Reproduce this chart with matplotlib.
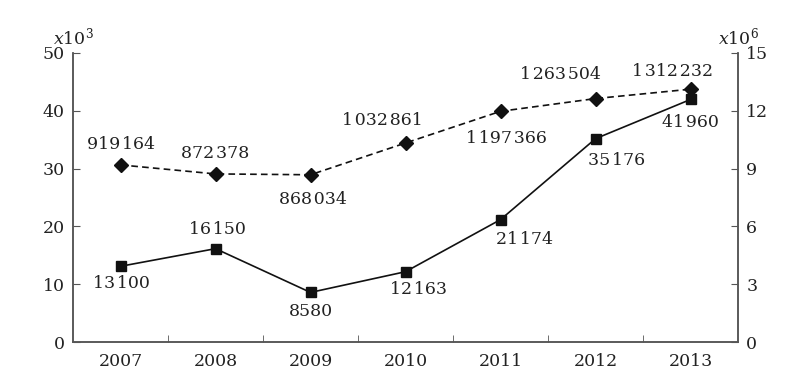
import matplotlib.pyplot as plt
import matplotlib.ticker as mticker

plt.rcParams['font.family'] = ['DejaVu Serif']
plt.rcParams['font.size'] = 12.5
plt.rcParams['mathtext.fontset'] = 'dejavuserif'

years = ['2007', '2008', '2009', '2010', '2011', '2012', '2013']
# solid line, left axis (x10^3)
solid_vals = [13100, 16150, 8580, 12163, 21174, 35176, 41960]
# dashed line, right axis
dashed_vals = [919164, 872378, 868034, 1032861, 1197366, 1263504, 1312232]

# label offsets in pixels (dx, dy)
solid_offsets = [(1, -17), (2, 19), (0, -19), (13, -18), (24, -20), (21, -22), (0, -23)]
dashed_offsets = [(0, 20), (0, 20), (2, -25), (-23, 23), (6, -27), (-35, 24), (-18, 18)]


def fmt(v):
    if v < 10000:
        return str(v)
    return f"{v:,}".replace(',', '\u200a')


ink = '#222222'
spine_c = '#555555'

fig = plt.figure(figsize=(8.05, 3.78), dpi=100)
ax = fig.add_axes([0.0907, 0.0952, 0.8261, 0.7646])
ax2 = ax.twinx()

x = list(range(len(years)))
ax.plot(x, [v / 1000 for v in solid_vals], color='#111111', lw=1.2,
        marker='s', ms=6.5, zorder=3)
ax2.plot(x, [v / 1e5 for v in dashed_vals], color='#111111', lw=1.2,
         ls=(0, (4, 2.5)), marker='D', ms=7, zorder=3)

for i, v in enumerate(solid_vals):
    ax.annotate(fmt(v), (i, v / 1000), xytext=solid_offsets[i],
                textcoords='offset pixels', ha='center', va='center', color=ink)
for i, v in enumerate(dashed_vals):
    ax2.annotate(fmt(v), (i, v / 1e5), xytext=dashed_offsets[i],
                 textcoords='offset pixels', ha='center', va='center', color=ink)

ax.set_xlim(-0.5, 6.5)
ax.set_ylim(0, 50)
ax2.set_ylim(0, 15)
ax.set_yticks(range(0, 51, 10))
ax2.set_yticks(range(0, 16, 3))
ax.set_xticks(x)
ax.set_xticklabels(years)
ax.xaxis.set_minor_locator(mticker.FixedLocator([i + 0.5 for i in range(6)]))

for a in (ax, ax2):
    a.spines['top'].set_visible(False)
    for s in a.spines.values():
        s.set_color(spine_c)
        s.set_linewidth(1.1)

ax.tick_params(axis='x', which='major', length=0, pad=8, colors=ink)
ax.tick_params(axis='x', which='minor', direction='in', length=5, color=spine_c)
ax.tick_params(axis='y', direction='in', length=5, pad=6, color=spine_c, labelcolor=ink)
ax2.tick_params(axis='y', direction='in', length=5, pad=6, color=spine_c, labelcolor=ink)

fig.text(0.0907, 0.872, r'$x$10$^3$', ha='center', va='bottom', color=ink)
fig.text(0.9168, 0.872, r'$x$10$^6$', ha='center', va='bottom', color=ink)

fig.savefig('out.png', dpi=100)
